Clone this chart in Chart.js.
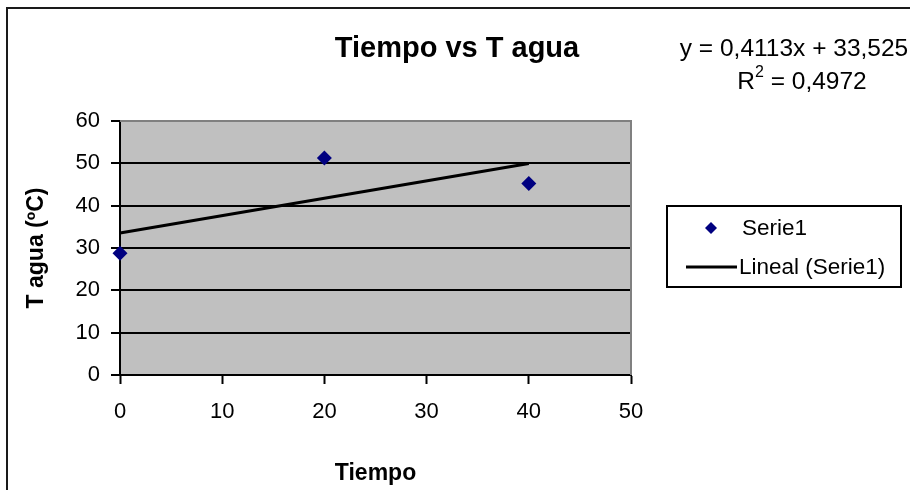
<!DOCTYPE html>
<html>
<head>
<meta charset="utf-8">
<script src="https://cdn.jsdelivr.net/npm/chart.js@4/dist/chart.umd.min.js"></script>
<style>
  html, body { margin: 0; padding: 0; background: #fff; }
  canvas { display: block; }
</style>
</head>
<body>
<canvas id="c" width="910" height="490"></canvas>
<script>
// Measurements: water temperature over time
const tiempo = [0, 20, 40];
const tAgua = [28.76, 51.28, 45.21];

// Linear trend fitted to the series
const trendSlope = 0.4113;
const trendIntercept = 33.525;
const rSquared = 0.4972;
const trendRange = [0, 40];

// Axis ticks
const xTicks = [0, 10, 20, 30, 40, 50];
const yTicks = [0, 10, 20, 30, 40, 50, 60];

const FONT = '"Liberation Sans", Arial, sans-serif';
const dec = (v, n) => v.toFixed(n).replace('.', ',');

const decorations = {
  id: 'decorations',
  beforeDraw(chart) {
    const { ctx, chartArea: a } = chart;
    ctx.save();
    ctx.fillStyle = '#fff';
    ctx.fillRect(0, 0, chart.width, chart.height);
    // outer frame (top and left edges visible)
    ctx.strokeStyle = '#1a1a1a';
    ctx.lineWidth = 2;
    ctx.beginPath();
    ctx.moveTo(7, chart.height);
    ctx.lineTo(7, 8);
    ctx.lineTo(chart.width, 8);
    ctx.stroke();
    // plot area fill
    ctx.fillStyle = '#c0c0c0';
    ctx.fillRect(a.left, a.top, a.right - a.left, a.bottom - a.top);
    ctx.restore();
  },
  beforeDatasetsDraw(chart) {
    const { ctx, chartArea: a } = chart;
    ctx.save();
    ctx.strokeStyle = '#808080';
    ctx.lineWidth = 2;
    ctx.beginPath();
    ctx.moveTo(a.left, a.top);
    ctx.lineTo(a.right, a.top);
    ctx.lineTo(a.right, a.bottom);
    ctx.stroke();
    ctx.restore();
  },
  afterDraw(chart) {
    const { ctx } = chart;
    ctx.save();
    ctx.fillStyle = '#000';
    ctx.textBaseline = 'middle';

    // chart title
    ctx.textAlign = 'center';
    ctx.font = 'bold 29px ' + FONT;
    ctx.fillText('Tiempo vs T agua', 457, 49);

    // trend equation
    ctx.font = '24.5px ' + FONT;
    ctx.fillText('y = ' + dec(trendSlope, 4) + 'x + ' + dec(trendIntercept, 3), 794, 49);

    // R² line with superscript
    const p1 = 'R', p2 = '2', p3 = ' = ' + dec(rSquared, 4);
    ctx.font = '24.5px ' + FONT;
    const w1 = ctx.measureText(p1).width, w3 = ctx.measureText(p3).width;
    ctx.font = '16px ' + FONT;
    const w2 = ctx.measureText(p2).width;
    let x = 802 - (w1 + w2 + w3) / 2;
    ctx.textAlign = 'left';
    ctx.font = '24.5px ' + FONT;
    ctx.fillText(p1, x, 82);
    ctx.font = '16px ' + FONT;
    ctx.fillText(p2, x + w1, 73);
    ctx.font = '24.5px ' + FONT;
    ctx.fillText(p3, x + w1 + w2, 82);

    // legend
    const ds = chart.data.datasets;
    ctx.strokeStyle = '#000';
    ctx.lineWidth = 2;
    ctx.strokeRect(667, 206, 234, 81);
    ctx.font = '22.5px ' + FONT;
    // marker entry
    const r0 = 228;
    ctx.fillStyle = ds[0].backgroundColor;
    ctx.beginPath();
    ctx.moveTo(711, r0 - 6);
    ctx.lineTo(717, r0);
    ctx.lineTo(711, r0 + 6);
    ctx.lineTo(705, r0);
    ctx.closePath();
    ctx.fill();
    ctx.fillStyle = '#000';
    ctx.fillText(ds[0].label, 742, r0 + 1);
    // line entry
    const r1 = 267;
    ctx.strokeStyle = ds[1].borderColor;
    ctx.lineWidth = 3;
    ctx.beginPath();
    ctx.moveTo(686, r1);
    ctx.lineTo(737, r1);
    ctx.stroke();
    ctx.fillText(ds[1].label, 739, r1 + 1);
    ctx.restore();
  }
};

new Chart(document.getElementById('c'), {
  type: 'scatter',
  data: {
    datasets: [
      {
        label: 'Serie1',
        data: tiempo.map((t, i) => ({ x: t, y: tAgua[i] })),
        pointStyle: 'rectRot',
        pointRadius: 7.5,
        backgroundColor: '#000080',
        borderColor: '#000080',
        borderWidth: 0,
        clip: false
      },
      {
        label: 'Lineal (Serie1)',
        data: trendRange.map(t => ({ x: t, y: trendIntercept + trendSlope * t })),
        showLine: true,
        borderColor: '#000',
        borderWidth: 3,
        pointRadius: 0,
        clip: false
      }
    ]
  },
  options: {
    responsive: false,
    animation: false,
    devicePixelRatio: 1,
    layout: { padding: { left: 0, right: 279, top: 121, bottom: 0 } },
    plugins: {
      legend: { display: false },
      title: { display: false },
      tooltip: { enabled: false }
    },
    scales: {
      x: {
        type: 'linear',
        min: 0,
        max: 50,
        afterBuildTicks: s => { s.ticks = xTicks.map(v => ({ value: v })); },
        afterFit: s => { s.height = 115; },
        grid: { drawOnChartArea: false, drawTicks: true, tickLength: 9, tickColor: '#000', tickWidth: 2 },
        border: { color: '#000', width: 2 },
        ticks: { color: '#000', font: { family: FONT, size: 22 }, padding: 15, maxRotation: 0 },
        title: { display: true, text: 'Tiempo', color: '#000', font: { family: FONT, size: 23, weight: 'bold' }, padding: { top: 0, bottom: 3 } }
      },
      y: {
        type: 'linear',
        min: 0,
        max: 60,
        afterBuildTicks: s => { s.ticks = yTicks.map(v => ({ value: v })); },
        afterFit: s => { s.width = 120; },
        grid: {
          color: c => (c.tick && c.tick.value === 60 ? '#808080' : '#000'),
          lineWidth: 2,
          tickLength: 9,
          tickColor: '#000',
          tickWidth: 2
        },
        border: { color: '#000', width: 2 },
        ticks: { color: '#000', font: { family: FONT, size: 22 }, padding: 11 },
        title: { display: true, text: 'T agua (ºC)', color: '#000', font: { family: FONT, size: 23, weight: 'bold' }, padding: { top: 23, bottom: 0 } }
      }
    }
  },
  plugins: [decorations]
});
</script>
</body>
</html>
